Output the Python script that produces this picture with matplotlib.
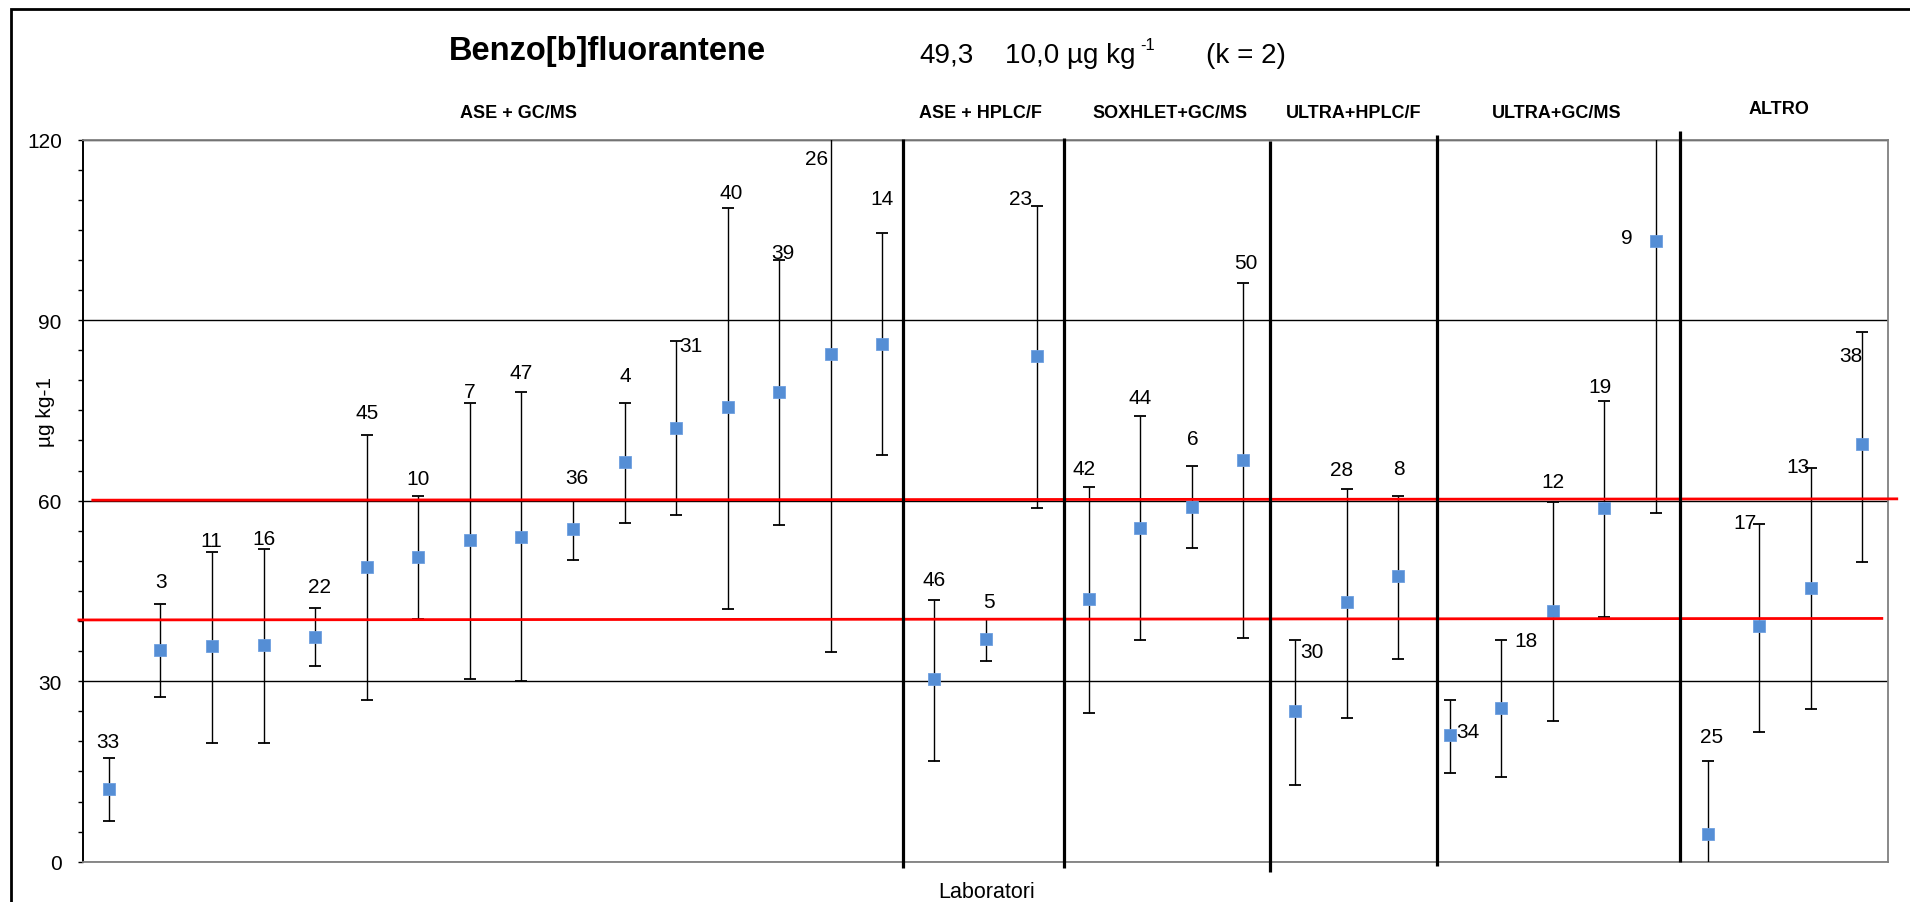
import numpy as np
import matplotlib
matplotlib.use("Agg")
import matplotlib.pyplot as plt
from matplotlib.patches import Rectangle
from matplotlib.ticker import MultipleLocator

plt.rcParams["font.family"] = ["Liberation Sans", "DejaVu Sans"]

# laboratory codes, in plotting order
labs = ["33", "3", "11", "16", "22", "45", "10", "7", "47", "36", "4", "31",
        "40", "39", "26", "14",
        "46", "5", "23",
        "42", "44", "6", "50",
        "30", "28", "8",
        "34", "18", "12", "19", "9",
        "25", "17", "13", "38"]

# reported values (ug/kg) and the ends of the uncertainty bars
values = [12.1, 35.2, 35.9, 36.0, 37.4, 49.0, 50.6, 53.5, 54.0, 55.3, 66.4, 72.0,
          75.6, 78.0, 84.3, 86.1,
          30.3, 37.0, 84.1,
          43.6, 55.4, 59.0, 66.8,
          25.0, 43.1, 47.4,
          21.1, 25.6, 41.7, 58.8, 103.1,
          4.6, 39.1, 45.5, 69.4]
err_low = [6.7, 27.4, 19.8, 19.8, 32.5, 26.8, 40.4, 30.3, 30.0, 50.1, 56.2, 57.6,
           42.0, 55.9, 34.9, 67.6,
           16.7, 33.4, 58.8,
           24.7, 36.9, 52.1, 37.1,
           12.7, 23.9, 33.7,
           14.7, 14.1, 23.3, 40.7, 57.9,
           -7.5, 21.6, 25.4, 49.8]
err_high = [17.2, 42.9, 51.5, 51.9, 42.1, 70.9, 60.8, 76.3, 78.1, 60.0, 76.3, 86.5,
            108.6, 99.9, 133.7, 104.5,
            43.5, 40.3, 108.9,
            62.2, 74.1, 65.7, 96.2,
            36.9, 61.9, 60.8,
            26.8, 36.9, 59.8, 76.6, 148.3,
            16.7, 56.1, 65.4, 88.0]

groups = ["ASE + GC/MS", "ASE + HPLC/F", "SOXHLET+GC/MS", "ULTRA+HPLC/F",
          "ULTRA+GC/MS", "ALTRO"]
group_sizes = [16, 3, 4, 3, 5, 4]

assigned = 49.3
expanded_u = 10.0

# label offsets from the marker, in pixels (hand placed as in the original)
label_offsets = [(-1, 47), (1, 68), (-1, 105), (0, 107), (4, 50), (0, 154),
                 (0, 79), (0, 148), (0, 164), (4, 51), (1, 87), (15, 83),
                 (4, 214), (4, 140), (-14, 196), (0, 145),
                 (0, 100), (3, 38), (-17, 157),
                 (-5, 131), (0, 131), (1, 68), (2, 197),
                 (17, 60), (-5, 133), (1, 108),
                 (18, 3), (25, 67), (0, 129), (-4, 121), (-29, 4),
                 (4, 98), (-14, 104), (-13, 121), (-11, 89)]

# group separators: x in category units, y extent in data units
separators = [(15.9, -1.05, 120.1), (19.03, -1.05, 120.3), (23.02, -1.7, 119.8),
              (26.25, -0.7, 120.7), (30.96, 0.0, 121.4)]
group_label_px = [(518, 114), (980, 113), (1170, 113), (1354, 114),
                  (1557, 113), (1779, 110)]

W, H = 1910, 903


def px(x, y):
    return x / W, 1 - y / H


def main():
    fig = plt.figure(figsize=(W / 100, H / 100), dpi=100)
    ax = fig.add_axes([83 / W, 1 - 862.7 / H, (1888 - 83) / W, (862.7 - 140.5) / H])

    x = np.arange(len(labs)) + 0.5
    v = np.array(values)
    yerr = [v - np.array(err_low), np.array(err_high) - v]

    ax.errorbar(x, v, yerr=yerr, fmt="none", ecolor="black", elinewidth=1.0,
                capsize=4, capthick=1.3, zorder=3)
    ax.plot(x, v, ls="none", marker="s", ms=8, color="#558ED5",
            markeredgecolor="#6E9FE0", markeredgewidth=0.6, zorder=4)

    for xi, vi, lab, (dx, dy) in zip(x, v, labs, label_offsets):
        ax.annotate(lab, (xi, vi), xytext=(dx, dy), textcoords="offset pixels",
                    ha="center", va="center", fontsize=15, zorder=6,
                    annotation_clip=False)

    # acceptance band lines (assigned value +/- U)
    ax.plot([0.19, 35.17], [60.07, 60.29], color="red", lw=2.0,
            clip_on=False, zorder=5)
    ax.plot([-0.08, 34.88], [40.17, 40.42], color="red", lw=2.0,
            clip_on=False, zorder=5)

    for sx, y0, y1 in separators:
        ax.plot([sx, sx], [y0, y1], color="black", lw=2.3, clip_on=False,
                zorder=5, solid_capstyle="butt")

    ax.set_xlim(0, len(labs))
    ax.set_ylim(0, 120)
    ax.yaxis.set_major_locator(MultipleLocator(30))
    ax.yaxis.set_minor_locator(MultipleLocator(5))
    ax.set_xticks([])
    ax.tick_params(axis="y", which="both", direction="out", length=3.8,
                   width=1, labelsize=15, pad=11.5)
    ax.grid(True, axis="y", which="major", color="black", lw=1.0)
    ax.set_axisbelow(True)
    for side in ["top", "right", "bottom"]:
        ax.spines[side].set_color("#808080")
        ax.spines[side].set_linewidth(1.3)
    ax.spines["left"].set_color("black")
    ax.spines["left"].set_linewidth(1.4)

    # headings
    fig.text(*px(607, 60), "Benzo[b]fluorantene", ha="center", va="baseline",
             fontsize=23.5, fontweight="bold")
    fig.text(*px(919, 63), "%.1f" % assigned, ha="left", va="baseline",
             fontsize=20).set_text("49,3")
    fig.text(*px(1005, 63), "10,0 µg kg", ha="left", va="baseline", fontsize=20)
    fig.text(*px(1140, 50), "-1", ha="left", va="baseline", fontsize=12)
    fig.text(*px(1206, 63), "(k = 2)", ha="left", va="baseline", fontsize=20)

    for name, (gx, gy) in zip(groups, group_label_px):
        fig.text(*px(gx, gy), name, ha="center", va="center", fontsize=13,
                 fontweight="bold")

    fig.text(*px(45, 412), "µg kg-1", rotation=90, ha="center", va="center",
             fontsize=15)
    fig.text(*px(987, 893), "Laboratori", ha="center", va="center", fontsize=15.5)

    fig.patches.append(Rectangle(px(11, 915), (W + 20) / W, 905 / H,
                                 transform=fig.transFigure, fill=False,
                                 edgecolor="black", lw=2, clip_on=False))

    fig.savefig("out.png", dpi=100)


if __name__ == "__main__":
    main()
